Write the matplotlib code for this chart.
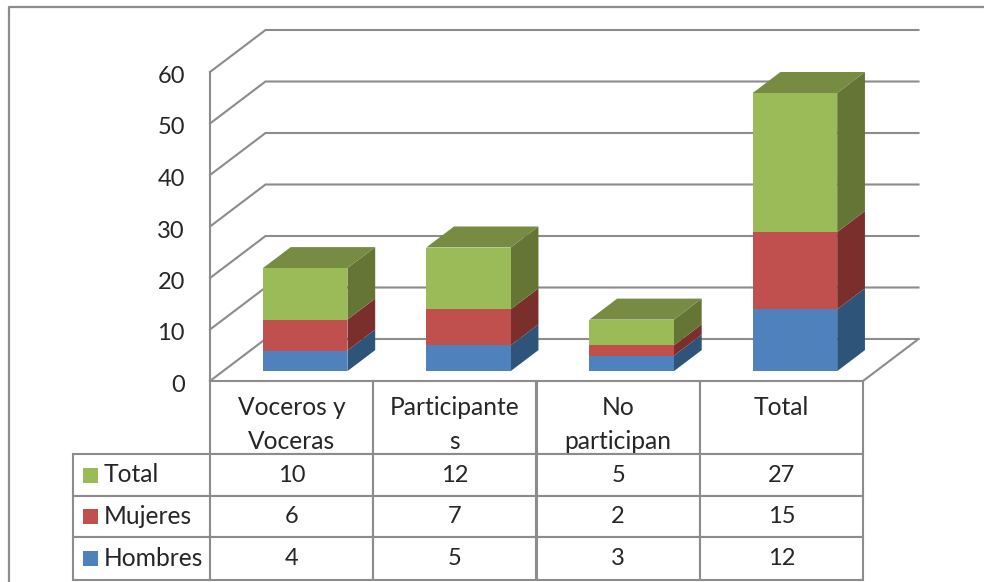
import matplotlib
matplotlib.use("Agg")
import matplotlib.pyplot as plt
from matplotlib.lines import Line2D
from matplotlib.patches import Polygon, Rectangle
from matplotlib.table import Table
from matplotlib.transforms import ScaledTranslation
import numpy as np

categories = ["Voceros y\nVoceras", "Participante\ns", "No\nparticipan", "Total"]
series_names = ["Hombres", "Mujeres", "Total"]
hombres = [4, 5, 3, 12]
mujeres = [6, 7, 2, 15]
total = [10, 12, 5, 27]
y_ticks = [0, 10, 20, 30, 40, 50, 60]

face_colors = ["#4F81BD", "#C0504D", "#9BBB59"]
side_colors = ["#2F5479", "#7B2F2D", "#657535"]
top_color = "#778B42"
line_color = "#8C8C8C"
text_color = "#262626"

W, H = 984, 582
plt.rcParams["font.family"] = ["Lato", "DejaVu Sans"]
FS = 17
FS_LABEL = 17.7
fig = plt.figure(figsize=(W / 100, H / 100), dpi=100, facecolor="white")

L, R, B, T = 210, 863, 381, 72
ax = fig.add_axes([L / W, 1 - B / H, (R - L) / W, (B - T) / H])
ax.set_xlim(0, len(categories))
ax.set_ylim(0, 60)
ax.patch.set_visible(False)
for s in ax.spines.values():
    s.set_visible(False)

px_x = (R - L) / len(categories)
px_y = (B - T) / 60
depth_x = 55.5 / px_x
depth_y = 42 / px_y

# Walls and floor
lw = 1.5
for v in y_ticks:
    ax.plot([0, depth_x, len(categories) + depth_x], [v, v + depth_y, v + depth_y],
            color=line_color, lw=lw, clip_on=False, zorder=1, solid_joinstyle="miter")
ax.plot([0, 0], [0, 60], color=line_color, lw=lw, clip_on=False, zorder=1)
ax.plot([len(categories), len(categories) + depth_x], [0, depth_y],
        color=line_color, lw=lw, clip_on=False, zorder=1)

# Bars
bar_w = 84.5 / px_x
centers = np.arange(len(categories)) + 0.5 + 0.25 * depth_x - 0.3 / px_x
base = 0.25 * depth_y - 0.6 / px_y
dx, dy = 0.5 * depth_x, 0.5 * depth_y
bottoms = np.full(len(categories), base, dtype=float)
for vals, fc, sc in zip([hombres, mujeres, total], face_colors, side_colors):
    vals = np.array(vals, dtype=float)
    ax.bar(centers, vals, width=bar_w, bottom=bottoms, color=fc, zorder=3, clip_on=False)
    for c, b, v in zip(centers, bottoms, vals):
        xr = c + bar_w / 2
        ax.add_patch(Polygon([(xr, b), (xr + dx, b + dy), (xr + dx, b + v + dy), (xr, b + v)],
                             closed=True, fc=sc, ec="none", zorder=2.5, clip_on=False))
    bottoms = bottoms + vals
for c, t in zip(centers, bottoms):
    xl, xr = c - bar_w / 2, c + bar_w / 2
    ax.add_patch(Polygon([(xl, t), (xr, t), (xr + dx, t + dy), (xl + dx, t + dy)],
                         closed=True, fc=top_color, ec="none", zorder=2.5, clip_on=False))

# Axis labels
ax.set_yticks(y_ticks)
ax.set_xticks(np.arange(len(categories)) + 0.5)
ax.set_xticklabels(categories, linespacing=1.62)
ax.tick_params(axis="y", length=0, pad=18, labelsize=FS, labelcolor=text_color)
ax.tick_params(axis="x", length=0, pad=10.5, labelsize=FS_LABEL, labelcolor=text_color)
ytick_shift = ScaledTranslation(0, -2.5 / 100, fig.dpi_scale_trans)
for lab in ax.get_yticklabels():
    lab.set_transform(lab.get_transform() + ytick_shift)

# Data table
table_bottom = 580
left_edge = 73
row_px = [73, 42, 41, 43]
label_w = (L - left_edge) / (R - L)
col_w = 1 / len(categories)
tbl = Table(ax, bbox=[0, -(table_bottom - B) / (B - T), 1, (table_bottom - B) / (B - T)])
tbl.auto_set_font_size(False)
for c in range(len(categories)):
    tbl.add_cell(0, c, width=col_w, height=row_px[0], text="", loc="center",
                 facecolor="white", edgecolor=line_color)
rows = list(zip(series_names, [hombres, mujeres, total]))[::-1]
for r, (name, vals) in enumerate(rows, start=1):
    cell = tbl.add_cell(r, -1, width=label_w, height=row_px[r], text=name, loc="left",
                        facecolor="white", edgecolor=line_color)
    cell.PAD = 0.225
    for c, v in enumerate(vals):
        tbl.add_cell(r, c, width=col_w, height=row_px[r], text=str(v), loc="center",
                     facecolor="white", edgecolor=line_color)
tbl.set_fontsize(FS)
for (row, col), cell in tbl.get_celld().items():
    cell.set_linewidth(lw)
    cell.get_text().set_color(text_color)
    if col == -1:
        cell.get_text().set_fontsize(FS_LABEL)
tbl.set_zorder(1.5)
tbl.set_clip_on(False)
ax.add_table(tbl)

# Legend keys inside the row-label cells
y_cursor = B + row_px[0]
for r, color in enumerate(face_colors[::-1], start=1):
    cy = y_cursor + row_px[r] / 2
    ax.add_patch(Rectangle(((82.5 - L) / (R - L), (B - cy - 7.5) / (B - T)),
                           15 / (R - L), 15 / (B - T), transform=ax.transAxes,
                           fc=color, ec="none", clip_on=False, zorder=4))
    y_cursor += row_px[r]

# Outer chart frame
fig.add_artist(Line2D([9 / W, 9 / W, 1], [0, 1 - 7 / H, 1 - 7 / H], color=line_color, lw=1.6))

fig.savefig("out.png", dpi=100, facecolor="white")
